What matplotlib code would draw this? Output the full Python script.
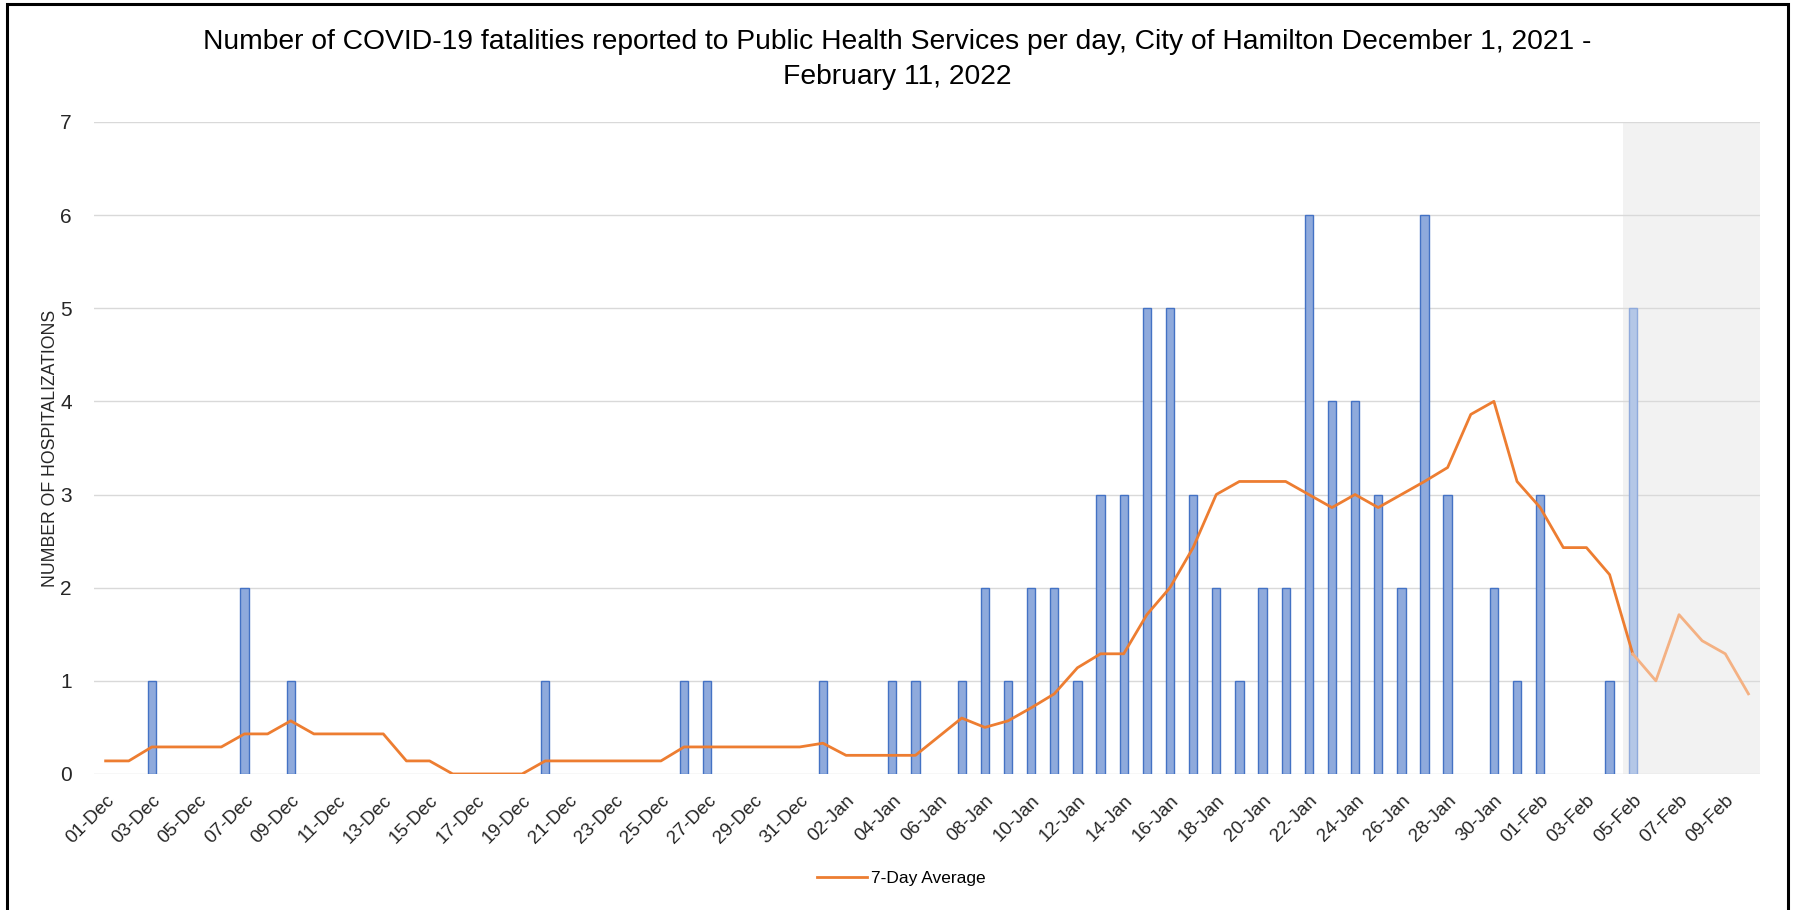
import matplotlib
matplotlib.use("Agg")
import matplotlib.pyplot as plt
from matplotlib.patches import Rectangle
import pandas as pd

plt.rcParams['font.family'] = ['Liberation Sans', 'DejaVu Sans']

dates = pd.date_range("2021-12-01", "2022-02-10", freq="D")
date_labels = [d.strftime("%d-%b") for d in dates]

# deaths per day, 01-Dec .. 10-Feb
deaths_dec = [0, 0, 1, 0, 0, 0, 2, 0, 1, 0, 0, 0, 0, 0, 0, 0, 0, 0, 0, 1,
              0, 0, 0, 0, 0, 1, 1, 0, 0, 0, 0]
deaths_jan = [1, 0, 0, 1, 1, 0, 1, 2, 1, 2, 2, 1, 3, 3, 5, 5, 3, 2, 1, 2,
              2, 6, 4, 4, 3, 2, 6, 3, 0, 2, 1]
deaths_feb = [3, 0, 0, 1, 5, 0, 0, 0, 0, 0]
deaths = deaths_dec + deaths_jan + deaths_feb

avg_dec = [0.14, 0.14, 0.29, 0.29, 0.29, 0.29, 0.43, 0.43, 0.57, 0.43, 0.43,
           0.43, 0.43, 0.14, 0.14, 0, 0, 0, 0, 0.14, 0.14, 0.14, 0.14, 0.14,
           0.14, 0.29, 0.29, 0.29, 0.29, 0.29, 0.29]
avg_jan = [0.33, 0.2, 0.2, 0.2, 0.2, 0.4, 0.6, 0.5, 0.57, 0.71, 0.86, 1.14,
           1.29, 1.29, 1.71, 2.0, 2.43, 3.0, 3.14, 3.14, 3.14, 3.0, 2.86, 3.0,
           2.86, 3.0, 3.14, 3.29, 3.86, 4.0, 3.14]
avg_feb = [2.86, 2.43, 2.43, 2.14, 1.29, 1.0, 1.71, 1.43, 1.29, 0.86]
avg7 = avg_dec + avg_jan + avg_feb

n_final = 66  # from 05-Feb the data is incomplete (shaded)

x = list(range(len(dates)))
# skip zero days so no stray bar edges sit on the axis
full_x = [i for i in x[:n_final] if deaths[i] > 0]
part_x = [i for i in x[n_final:] if deaths[i] > 0]

fig = plt.figure(figsize=(17.95, 9.10), dpi=100)
ax = fig.add_axes([0.0524, 0.1495, 0.9281, 0.7165])

ax.axvspan(n_final - 0.43, len(dates) - 0.5, color='#F2F2F2', zorder=0, lw=0)
ax.bar(full_x, [deaths[i] for i in full_x], width=0.36, color='#8FAADC',
       edgecolor='#4472C4', linewidth=1, zorder=2)
ax.bar(part_x, [deaths[i] for i in part_x], width=0.36, color='#B4C7E7',
       edgecolor='#8FAADC', linewidth=1, zorder=2)
ax.plot(x[:n_final + 1], avg7[:n_final + 1], color='#ED7D31', lw=2.0,
        zorder=3, label='7-Day Average')
ax.plot(x[n_final:], avg7[n_final:], color='#F4B183', lw=2.0, zorder=3)

ax.set_xlim(-0.5, len(dates) - 0.5)
ax.set_ylim(0, 7)
ax.set_yticks(range(8))
ax.grid(axis='y', color='#D9D9D9', lw=1, zorder=1)
ax.set_axisbelow(True)
for s in ax.spines.values():
    s.set_visible(False)
ax.tick_params(axis='both', length=0, colors='#262626')
ax.tick_params(axis='y', labelsize=15, pad=16)
ax.set_xticks(x[::2])
ax.set_xticklabels(date_labels[::2], rotation=45, ha='right', va='top',
                   rotation_mode='anchor', fontsize=13.5)
ax.tick_params(axis='x', pad=13)
ax.set_ylabel('NUMBER OF HOSPITALIZATIONS', fontsize=12.7, color='#262626',
              labelpad=1)

fig.text(0.5, 0.968, 'Number of COVID-19 fatalities reported to Public Health '
         'Services per day, City of Hamilton December 1, 2021 -\nFebruary 11, 2022',
         ha='center', va='top', fontsize=20.3, color='#000000', linespacing=1.45)

fig.legend(loc='center', bbox_to_anchor=(0.502, 0.035), frameon=False,
           fontsize=12.5, handlelength=2.9, handletextpad=0.2)

fig.patches.append(Rectangle((7 / 1795, -0.01), 1781 / 1795, 1 - 4 / 910 + 0.01,
                             transform=fig.transFigure, fill=False,
                             edgecolor='black', lw=2.2))

fig.savefig('out.png', dpi=100)
